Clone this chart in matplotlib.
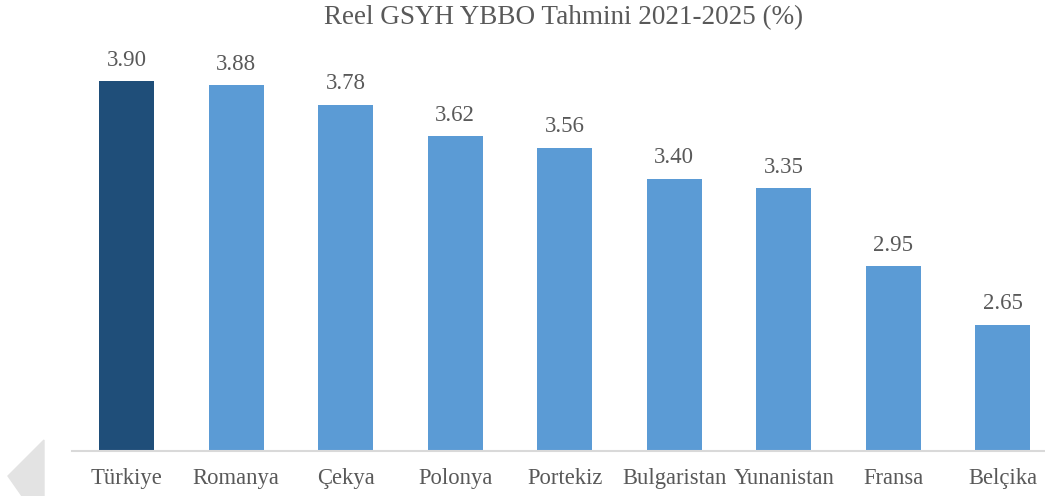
import matplotlib.pyplot as plt
from matplotlib.patches import Polygon

countries = ['Türkiye', 'Romanya', 'Çekya', 'Polonya', 'Portekiz',
             'Bulgaristan', 'Yunanistan', 'Fransa', 'Belçika']
growth = [3.90, 3.88, 3.78, 3.62, 3.56, 3.40, 3.35, 2.95, 2.65]
title = 'Reel GSYH YBBO Tahmini 2021-2025 (%)'

plt.rcParams['font.family'] = ['Liberation Serif', 'DejaVu Serif']
text_color = '#595959'

fig = plt.figure(figsize=(10.45, 4.96), dpi=100)
ax = fig.add_axes([72 / 1045, 1 - 451 / 496, 985.5 / 1045, (451 - 62) / 496])

colors = ['#1F4E79'] + ['#5B9BD5'] * (len(countries) - 1)
x = range(len(countries))
bars = ax.bar(x, growth, width=0.5, color=colors, zorder=2)

for b, v in zip(bars, growth):
    ax.annotate(f'{v:.2f}', (b.get_x() + b.get_width() / 2, v),
                xytext=(0, 15), textcoords='offset points',
                ha='center', va='center', fontsize=16.5, color=text_color)

ax.set_ylim(2.0, 4.0)
ax.set_xlim(-0.5, len(countries) - 0.5)
ax.set_xticks(list(x))
ax.set_xticklabels(countries, fontsize=16.3, color=text_color)
ax.tick_params(axis='x', length=0, pad=12)
ax.set_yticks([])
for s in ['top', 'right', 'left']:
    ax.spines[s].set_visible(False)
ax.spines['bottom'].set_color('#D9D9D9')
ax.spines['bottom'].set_linewidth(1.5)

fig.text(564 / 1045, 1 - 18 / 496, title, ha='center', va='center',
         fontsize=19.5, color=text_color)

# faint arrow mark at the lower left corner
tri = Polygon([(8 / 1045, 1 - 476 / 496), (44 / 1045, 1 - 440 / 496),
               (44 / 1045, 0), (22 / 1045, 0)],
              closed=True, transform=fig.transFigure, color='#E3E3E3', zorder=0)
fig.patches.append(tri)

fig.savefig('out.png', dpi=100)
